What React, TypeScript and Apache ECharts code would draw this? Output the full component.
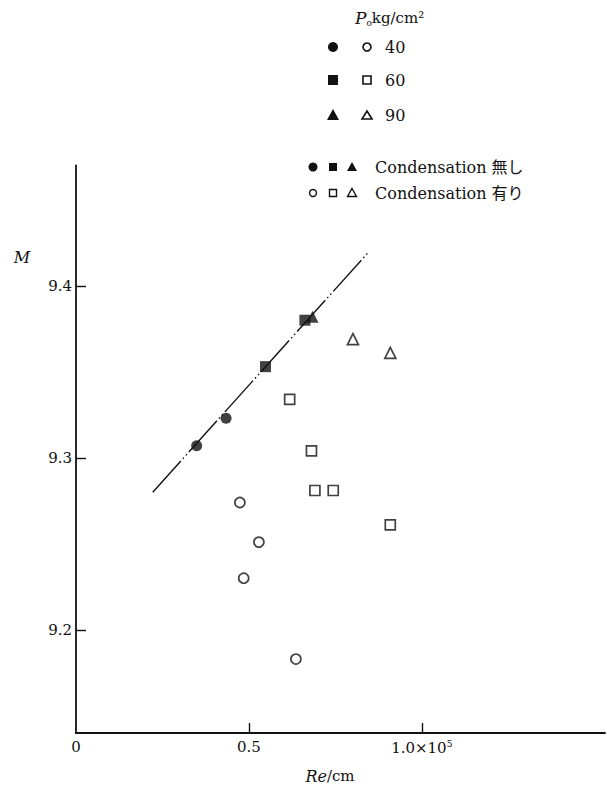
import React, { useEffect, useRef } from "react";
import * as echarts from "echarts";

const xTickValues = [0, 0.5, 1.0];
const xTickMarks = [0.5, 1.0];
const yTickValues = [9.2, 9.3, 9.4];

const filledCircle40 = [[0.349, 9.307], [0.434, 9.323]];
const filledSquare60 = [[0.548, 9.353], [0.662, 9.38]];
const filledTriangle90 = [[0.684, 9.382]];
const openCircle40 = [[0.474, 9.274], [0.529, 9.251], [0.485, 9.23], [0.636, 9.183]];
const openSquare60 = [[0.618, 9.334], [0.681, 9.304], [0.691, 9.281], [0.744, 9.281], [0.909, 9.261]];
const openTriangle90 = [[0.801, 9.369], [0.909, 9.361]];
const fitLine = [[0.222, 9.28], [0.848, 9.42]];

const pressureLabels = ["40", "60", "90"];

const SERIF = "'DejaVu Serif', 'Liberation Serif', 'Noto Sans CJK JP', serif";
const INK = "#111";

export default function App() {
  const ref = useRef<HTMLDivElement>(null);
  useEffect(() => {
    if (!ref.current) return;
    const chart = echarts.init(ref.current, null, { renderer: "svg" });
    const filled = { color: INK, borderColor: INK, borderWidth: 0 };
    const hollow = { color: "#fff", borderColor: INK, borderWidth: 1.7 };

    const legendRowsY = [47, 80, 115];
    const legendShapes: any[] = [];
    legendRowsY.forEach((y, i) => {
      if (i === 0) {
        legendShapes.push({ type: "circle", shape: { cx: 333, cy: y, r: 5 }, style: { fill: INK } });
        legendShapes.push({ type: "circle", shape: { cx: 367, cy: y, r: 4 }, style: { fill: "#fff", stroke: INK, lineWidth: 1.6 } });
      } else if (i === 1) {
        legendShapes.push({ type: "rect", shape: { x: 328, y: y - 5, width: 10, height: 10 }, style: { fill: INK } });
        legendShapes.push({ type: "rect", shape: { x: 363, y: y - 4, width: 8, height: 8 }, style: { fill: "#fff", stroke: INK, lineWidth: 1.6 } });
      } else {
        legendShapes.push({ type: "polygon", shape: { points: [[333, y - 6], [339, y + 5], [327, y + 5]] }, style: { fill: INK } });
        legendShapes.push({ type: "polygon", shape: { points: [[367, y - 4], [372, y + 4], [362, y + 4]] }, style: { fill: "#fff", stroke: INK, lineWidth: 1.6 } });
      }
      legendShapes.push({
        type: "text",
        style: { x: 385, y, text: pressureLabels[i], fill: INK, font: `16px ${SERIF}`, verticalAlign: "middle", align: "left" },
      });
    });

    const condShapes: any[] = [
      { type: "circle", shape: { cx: 313, cy: 167, r: 4.5 }, style: { fill: INK } },
      { type: "rect", shape: { x: 329, y: 163, width: 8, height: 8 }, style: { fill: INK } },
      { type: "polygon", shape: { points: [[352, 162], [357, 171], [347, 171]] }, style: { fill: INK } },
      { type: "text", style: { x: 375, y: 167, text: "Condensation 無し", fill: INK, font: `16px ${SERIF}`, verticalAlign: "middle" } },
      { type: "circle", shape: { cx: 313, cy: 193, r: 3.5 }, style: { fill: "#fff", stroke: INK, lineWidth: 1.4 } },
      { type: "rect", shape: { x: 329.5, y: 189.5, width: 7, height: 7 }, style: { fill: "#fff", stroke: INK, lineWidth: 1.4 } },
      { type: "polygon", shape: { points: [[352, 188.5], [356.5, 196.5], [347.5, 196.5]] }, style: { fill: "#fff", stroke: INK, lineWidth: 1.4 } },
      { type: "text", style: { x: 375, y: 193, text: "Condensation 有り", fill: INK, font: `16px ${SERIF}`, verticalAlign: "middle" } },
    ];

    const option: any = {
      animation: false,
      backgroundColor: "#fff",
      grid: { left: 76, right: 2, top: 165.4, bottom: 60, containLabel: false },
      xAxis: {
        type: "value",
        min: 0,
        max: 1.53,
        axisLine: { show: true, onZero: false, lineStyle: { color: INK, width: 1.8 } },
        axisTick: { show: true, inside: true, length: 10, customValues: xTickMarks, lineStyle: { color: INK, width: 1.4 } },
        splitLine: { show: false },
        axisLabel: {
          customValues: xTickValues,
          color: INK,
          fontFamily: SERIF,
          fontSize: 15,
          margin: 6,
          formatter: (v: number) => (v === 1 ? "{a|1.0×10}{b|5}" : v === 0 ? "0" : String(v)),
          rich: {
            a: { fontFamily: SERIF, fontSize: 15, color: INK },
            b: { fontFamily: SERIF, fontSize: 9, color: INK, padding: [0, 0, 9, 0] },
          },
        },
      },
      yAxis: {
        type: "value",
        min: 9.14,
        max: 9.47,
        axisLine: { show: true, onZero: false, lineStyle: { color: INK, width: 1.8 } },
        axisTick: { show: true, inside: true, length: 10, customValues: yTickValues, lineStyle: { color: INK, width: 1.4 } },
        splitLine: { show: false },
        axisLabel: {
          customValues: yTickValues,
          color: INK,
          fontFamily: SERIF,
          fontSize: 15,
          margin: 4,
          formatter: (v: number) => v.toFixed(1),
        },
      },
      series: [
        {
          type: "line",
          data: fitLine,
          symbol: "none",
          z: 1,
          lineStyle: { color: INK, width: 1.4, type: [42, 3, 1.5, 3, 1.5, 3] },
        },
        { type: "scatter", data: filledCircle40, symbol: "circle", symbolSize: 11, itemStyle: filled, z: 3 },
        { type: "scatter", data: filledSquare60, symbol: "rect", symbolSize: 11, itemStyle: filled, z: 3 },
        { type: "scatter", data: filledTriangle90, symbol: "triangle", symbolSize: 12, itemStyle: filled, z: 3 },
        { type: "scatter", data: openCircle40, symbol: "circle", symbolSize: 10, itemStyle: hollow, z: 3 },
        { type: "scatter", data: openSquare60, symbol: "rect", symbolSize: 10, itemStyle: hollow, z: 3 },
        { type: "scatter", data: openTriangle90, symbol: "triangle", symbolSize: 11, itemStyle: hollow, z: 3 },
      ],
      graphic: [
        {
          type: "text",
          style: {
            x: 355,
            y: 18,
            text: "{p|P}{s|o}{t|kg/cm²}",
            verticalAlign: "middle",
            rich: {
              p: { fontFamily: SERIF, fontStyle: "italic", fontSize: 17, fill: INK },
              s: { fontFamily: SERIF, fontSize: 9, fill: INK, padding: [10, 0, 0, 0] },
              t: { fontFamily: SERIF, fontSize: 15, fill: INK },
            },
          },
        },
        ...legendShapes,
        ...condShapes,
        {
          type: "text",
          style: { x: 22, y: 257, text: "M", fill: INK, font: `italic 16px ${SERIF}`, align: "center", verticalAlign: "middle" },
        },
        {
          type: "text",
          style: {
            x: 330,
            y: 776,
            text: "{i|Re}{u|/cm}",
            align: "center",
            verticalAlign: "middle",
            rich: {
              i: { fontFamily: SERIF, fontStyle: "italic", fontSize: 16, fill: INK },
              u: { fontFamily: SERIF, fontSize: 15, fill: INK },
            },
          },
        },
      ],
    };
    chart.setOption(option);
    return () => chart.dispose();
  }, []);
  return <div ref={ref} style={{ position: "absolute", left: 0, top: 0, width: 607, height: 793 }} />;
}
